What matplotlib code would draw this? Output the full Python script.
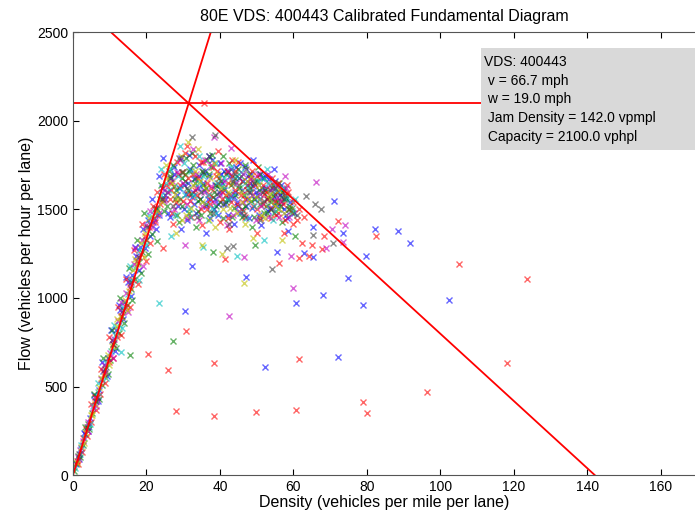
import matplotlib
matplotlib.use('Agg')
import matplotlib.pyplot as plt
from matplotlib.patches import Rectangle

plt.rcParams['font.family'] = ['Liberation Sans', 'DejaVu Sans']

# calibrated parameters
vds_id = '400443'
v_free = 66.7       # mph
w_cong = 19.0       # mph
jam_density = 142.0 # vpmpl
capacity = 2100.0   # vphpl

# observed (density, flow) points, grouped by the colour they were plotted in
blue_pts = [(0.8, 60), (2.1, 150), (3.3, 230), (4.6, 320), (5.9, 420), (7.0, 480), (8.2, 590), (9.5, 660),
            (10.6, 760), (11.7, 820), (12.8, 930), (13.9, 980), (15.1, 1090), (16.0, 1130), (17.2, 1240),
            (18.3, 1290), (19.1, 1390), (20.4, 1440), (21.5, 1560),
            (1.6, 90), (3.0, 240), (4.2, 250), (5.6, 450), (6.9, 420), (8.0, 640), (9.2, 560), (10.3, 820),
            (11.4, 700), (12.4, 960), (13.6, 880), (14.5, 1120), (15.8, 1010), (16.8, 1290), (17.9, 1160),
            (19.6, 1280), (20.9, 1350), (21.8, 1430), (22.6, 1390),
            (23.5, 1690), (25.1, 1580), (27.4, 1740), (28.9, 1620), (30.2, 1500), (31.6, 1810), (33.0, 1670),
            (34.7, 1560), (35.9, 1720), (37.3, 1450), (38.6, 1640), (40.1, 1760), (41.4, 1530), (42.8, 1690),
            (44.0, 1600), (45.5, 1480), (46.9, 1740), (48.2, 1650), (49.6, 1560), (50.8, 1700), (52.3, 1620),
            (53.7, 1510), (55.0, 1660), (56.4, 1580), (57.9, 1470), (29.5, 1390), (36.2, 1370), (43.7, 1420),
            (51.1, 1410), (58.5, 1380), (26.3, 1460), (32.4, 1570), (39.5, 1530), (47.3, 1560), (54.6, 1730),
            (24.4, 1790), (45.1, 1680), (49.0, 1780),
            (22.5, 1510), (24.2, 1620), (25.9, 1480), (27.6, 1700), (29.3, 1790), (31.0, 1440), (32.7, 1600),
            (34.4, 1690), (36.1, 1520), (37.8, 1780), (39.5, 1470), (41.2, 1610), (42.9, 1730), (44.6, 1540),
            (46.3, 1660), (48.0, 1450), (49.7, 1600), (51.4, 1680), (53.1, 1490), (54.8, 1570), (56.5, 1520),
            (58.2, 1450), (23.4, 1470), (25.0, 1560), (26.8, 1680), (28.5, 1520), (30.1, 1640), (31.8, 1730),
            (33.6, 1480), (35.3, 1650), (37.0, 1800), (38.7, 1560), (40.4, 1700), (42.1, 1470), (43.8, 1570),
            (45.5, 1760), (47.2, 1520), (48.9, 1630), (50.6, 1470), (52.3, 1690), (54.0, 1560), (55.7, 1600),
            (57.4, 1500), (59.1, 1540), (60.2, 1480),
            (28.2, 1580), (29.9, 1710), (31.3, 1650), (32.9, 1530), (34.2, 1750), (35.7, 1610), (37.1, 1690),
            (38.4, 1500), (39.8, 1600), (41.0, 1720), (42.4, 1560), (43.5, 1650), (44.9, 1520), (46.0, 1610),
            (47.6, 1690), (48.7, 1510), (50.1, 1580), (51.5, 1620), (52.8, 1560), (54.1, 1620), (55.4, 1520),
            (56.7, 1640), (30.7, 1590), (33.9, 1620), (36.8, 1560), (40.6, 1650), (44.3, 1740), (48.4, 1700),
            (53.3, 1670), (57.2, 1600),
            (32.5, 1180), (47.0, 1120), (55.5, 1260), (62.9, 1252), (65.4, 1231), (73.6, 1365), (65.4, 1401),
            (71.1, 1548), (82.2, 1390), (88.4, 1380), (91.6, 1310), (79.7, 1239), (74.9, 1113), (68.0, 1016),
            (60.8, 973), (79.0, 962), (102.4, 988), (30.6, 928), (52.3, 611), (72.2, 666)]

green_pts = [(0.3, 20), (1.5, 110), (2.8, 170), (4.0, 290), (5.2, 350), (6.6, 440), (7.8, 510), (8.9, 610),
             (10.1, 650), (11.3, 750), (12.4, 800), (13.4, 900), (14.6, 960), (15.7, 1050), (16.9, 1110),
             (17.8, 1200), (18.9, 1260), (19.8, 1330), (20.9, 1420), (22.3, 1500),
             (0.9, 70), (2.0, 100), (3.4, 270), (4.4, 260), (5.7, 460), (7.1, 430), (8.3, 660), (9.4, 570),
             (10.5, 820), (11.8, 720), (12.9, 1000), (14.0, 860), (15.2, 1170), (16.2, 990), (17.3, 1330),
             (18.5, 1140), (19.3, 1480), (20.3, 1250), (21.4, 1360),
             (24.0, 1640), (26.1, 1720), (27.9, 1560), (29.7, 1680), (31.2, 1610), (32.8, 1750), (34.1, 1490),
             (35.5, 1640), (37.0, 1700), (38.2, 1570), (39.8, 1680), (41.0, 1620), (42.5, 1760), (43.9, 1510),
             (45.2, 1640), (46.6, 1580), (47.9, 1700), (49.3, 1460), (50.5, 1610), (51.9, 1680), (53.2, 1570),
             (54.4, 1640), (55.9, 1540), (57.2, 1610), (58.8, 1520), (28.4, 1470), (33.6, 1400), (40.7, 1450),
             (48.6, 1400), (56.8, 1430), (30.8, 1790), (37.8, 1810), (44.8, 1730), (52.6, 1520), (25.6, 1520),
             (42.0, 1560), (36.1, 1530), (59.6, 1480),
             (23.0, 1500), (24.7, 1490), (26.4, 1690), (28.1, 1610), (29.8, 1520), (31.5, 1720), (33.2, 1650),
             (34.9, 1470), (36.6, 1780), (38.3, 1600), (40.0, 1540), (41.7, 1700), (43.4, 1460), (45.1, 1620),
             (46.8, 1750), (48.5, 1550), (50.2, 1660), (51.9, 1480), (53.6, 1610), (55.3, 1540), (57.0, 1600),
             (58.7, 1500), (22.1, 1450), (23.8, 1560), (25.5, 1600), (27.2, 1750), (28.9, 1430), (30.6, 1660),
             (32.3, 1820), (34.0, 1550), (35.7, 1700), (37.4, 1480), (39.1, 1630), (40.8, 1800), (42.5, 1590),
             (44.2, 1680), (45.9, 1500), (47.6, 1640), (49.3, 1560), (51.0, 1700), (52.7, 1480), (54.4, 1580),
             (56.1, 1650), (57.8, 1570), (59.5, 1510),
             (27.5, 1630), (29.1, 1560), (30.4, 1700), (32.0, 1590), (33.3, 1680), (34.6, 1560), (36.3, 1620),
             (37.6, 1740), (39.0, 1520), (40.3, 1660), (41.6, 1540), (42.9, 1640), (44.0, 1580), (45.6, 1690),
             (46.9, 1520), (48.2, 1620), (49.6, 1660), (50.9, 1530), (52.2, 1610), (53.9, 1540), (55.0, 1590),
             (56.3, 1520), (31.7, 1480), (35.0, 1720), (38.8, 1640), (42.2, 1710), (46.1, 1460), (50.3, 1740),
             (54.7, 1480), (58.1, 1560),
             (27.1, 756), (15.5, 677), (38.2, 1260), (49.5, 1300), (22.8, 1320), (60.4, 1350)]

red_pts = [(1.0, 80), (2.4, 130), (3.6, 260), (4.9, 300), (6.1, 440), (7.3, 460), (8.5, 570), (9.8, 640),
           (10.8, 740), (12.0, 780), (13.1, 900), (14.3, 950), (15.4, 1060), (16.4, 1100), (17.5, 1210),
           (18.6, 1250), (19.6, 1350), (20.7, 1400), (21.9, 1520),
           (1.3, 60), (2.6, 210), (3.8, 220), (5.0, 400), (6.2, 370), (7.6, 600), (8.6, 520), (9.9, 780),
           (11.0, 660), (12.2, 950), (13.2, 790), (14.4, 1110), (15.5, 950), (16.5, 1270), (17.6, 1080),
           (18.8, 1420), (19.9, 1210), (21.1, 1310), (22.2, 1430),
           (22.8, 1600), (24.7, 1700), (26.6, 1610), (28.3, 1770), (29.9, 1550), (31.4, 1680), (33.3, 1610),
           (34.9, 1770), (36.4, 1500), (37.7, 1620), (39.1, 1720), (40.6, 1560), (42.1, 1650), (43.4, 1780),
           (44.7, 1530), (46.1, 1660), (47.5, 1610), (48.8, 1720), (50.2, 1500), (51.6, 1640), (52.9, 1560),
           (54.3, 1680), (55.6, 1600), (57.1, 1530), (58.3, 1640), (59.8, 1420), (27.2, 1420), (35.2, 1410),
           (42.6, 1390), (50.0, 1370), (57.5, 1370), (31.0, 1860), (39.6, 1830), (46.4, 1490), (53.8, 1450),
           (61.5, 1500), (63.0, 1460),
           (22.9, 1470), (24.6, 1560), (26.3, 1650), (28.0, 1540), (29.7, 1710), (31.4, 1590), (33.1, 1800),
           (34.8, 1500), (36.5, 1650), (38.2, 1740), (39.9, 1430), (41.6, 1580), (43.3, 1690), (45.0, 1770),
           (46.7, 1460), (48.4, 1600), (50.1, 1690), (51.8, 1530), (53.5, 1640), (55.2, 1470), (56.9, 1550),
           (58.6, 1600), (23.6, 1530), (25.3, 1640), (27.0, 1480), (28.7, 1700), (30.4, 1820), (32.1, 1460),
           (33.8, 1580), (35.5, 1770), (37.2, 1530), (38.9, 1690), (40.6, 1600), (42.3, 1450), (44.0, 1720),
           (45.7, 1580), (47.4, 1640), (49.1, 1520), (50.8, 1450), (52.5, 1600), (54.2, 1510), (55.9, 1650),
           (57.6, 1440), (59.3, 1490), (61.0, 1440),
           (29.0, 1640), (31.9, 1550), (34.0, 1680), (36.9, 1590), (39.4, 1650), (41.9, 1720), (44.2, 1610),
           (46.8, 1560), (49.5, 1640), (52.0, 1590), (54.9, 1550), (57.8, 1580), (32.6, 1700), (37.4, 1560),
           (43.0, 1540), (48.1, 1670), (51.0, 1560), (55.9, 1480), (26.4, 1560), (60.0, 1540),
           (35.7, 2102), (62.3, 1311), (65.1, 1301), (67.7, 1276), (64.3, 1235), (61.5, 1224), (68.4, 1352),
           (72.2, 1435), (82.6, 1348), (105.1, 1190), (123.5, 1109), (118.2, 635), (96.4, 468), (79.0, 415),
           (79.9, 349), (61.5, 656), (60.8, 369), (49.9, 355), (38.4, 334), (28.1, 364), (25.9, 596),
           (38.4, 632), (20.3, 683), (30.8, 813), (41.5, 1220), (56.0, 1200), (24.5, 1280)]

cyan_pts = [(0.6, 40), (1.8, 120), (3.0, 210), (4.3, 270), (5.5, 390), (6.8, 470), (8.0, 540), (9.1, 630),
            (10.4, 700), (11.5, 790), (12.6, 850), (13.7, 950), (14.9, 1020), (15.9, 1100), (17.0, 1170),
            (18.1, 1270), (19.4, 1320), (20.6, 1470),
            (2.2, 170), (4.5, 290), (6.7, 520), (9.0, 550), (11.1, 850), (13.4, 830), (15.6, 1180),
            (17.9, 1100), (20.0, 1300),
            (23.9, 1730), (26.0, 1610), (28.6, 1690), (30.5, 1580), (32.1, 1720), (34.3, 1650), (36.7, 1580),
            (38.9, 1760), (41.2, 1680), (43.1, 1570), (45.8, 1710), (47.7, 1620), (50.4, 1660), (52.8, 1730),
            (55.3, 1610), (57.6, 1560), (31.9, 1460), (39.0, 1480), (47.0, 1450), (54.9, 1490), (60.3, 1560),
            (29.0, 1860),
            (22.7, 1480), (25.2, 1650), (27.8, 1470), (30.3, 1760), (32.9, 1580), (35.4, 1690), (37.9, 1510),
            (40.5, 1630), (43.0, 1740), (45.6, 1480), (48.1, 1600), (50.7, 1560), (53.2, 1650), (55.8, 1500),
            (58.3, 1570), (24.0, 1580), (26.5, 1730), (29.1, 1620), (31.6, 1500), (34.2, 1800), (36.7, 1440),
            (39.3, 1650), (41.8, 1560), (44.3, 1690), (46.9, 1650), (49.4, 1520), (52.0, 1680), (54.5, 1440),
            (57.1, 1620), (59.6, 1490),
            (23.5, 971), (13.1, 694), (35.3, 1290), (26.7, 1350), (52.0, 1330), (44.6, 1240)]

magenta_pts = [(1.4, 100), (2.7, 190), (4.1, 250), (5.4, 380), (6.5, 430), (7.7, 540), (8.8, 580), (10.2, 690),
               (11.2, 770), (12.3, 870), (13.3, 920), (14.5, 1030), (15.6, 1080), (16.6, 1190), (17.7, 1230),
               (18.8, 1330), (19.9, 1410), (21.0, 1490),
               (1.9, 140), (4.0, 300), (6.3, 390), (8.4, 620), (10.9, 660), (13.0, 980), (15.0, 920),
               (17.0, 1280), (19.0, 1180), (21.6, 1400),
               (24.8, 1550), (27.0, 1660), (29.2, 1780), (31.0, 1530), (33.5, 1700), (35.6, 1600), (37.5, 1750),
               (39.9, 1580), (42.3, 1720), (44.4, 1650), (46.3, 1540), (48.5, 1680), (50.9, 1590), (53.1, 1700),
               (55.4, 1630), (57.7, 1690), (34.4, 1440), (41.8, 1410), (49.8, 1440), (56.2, 1460), (38.4, 1910),
               (43.0, 1850),
               (23.3, 1480), (25.8, 1600), (28.4, 1710), (30.9, 1450), (33.4, 1620), (36.0, 1780), (38.5, 1540),
               (41.1, 1660), (43.6, 1470), (46.2, 1700), (48.7, 1580), (51.3, 1520), (53.8, 1610), (56.4, 1550),
               (58.9, 1460), (22.4, 1440), (24.9, 1610), (27.5, 1500), (30.0, 1650), (32.6, 1840), (35.1, 1520),
               (37.7, 1630), (40.2, 1760), (42.8, 1580), (45.3, 1490), (47.9, 1650), (50.4, 1700), (53.0, 1460),
               (55.5, 1570), (58.0, 1620),
               (42.4, 899), (60.0, 1054), (66.1, 1653), (74.1, 1412), (69.0, 1280), (59.3, 1235), (73.6, 1318),
               (70.4, 1390), (30.5, 1300), (46.6, 1230)]

yellow_pts = [(1.1, 70), (2.3, 160), (3.5, 240), (4.8, 340), (6.0, 400), (7.2, 500), (8.4, 560), (9.6, 680),
              (10.7, 730), (11.9, 840), (13.0, 890), (14.1, 990), (15.3, 1040), (16.3, 1160), (17.4, 1190),
              (18.4, 1310), (19.5, 1370), (20.8, 1450),
              (2.9, 180), (5.3, 340), (7.5, 550), (9.9, 620), (12.1, 880), (14.6, 930), (16.9, 1220), (19.2, 1230),
              (25.3, 1750), (27.7, 1590), (30.0, 1710), (32.6, 1640), (35.0, 1540), (37.4, 1680), (40.3, 1620),
              (42.7, 1510), (45.6, 1600), (48.0, 1560), (50.7, 1640), (53.5, 1590), (56.0, 1500), (33.9, 1840),
              (44.2, 1780), (29.8, 1440), (38.7, 1400), (46.8, 1420),
              (22.8, 1490), (25.6, 1680), (28.2, 1560), (30.7, 1470), (33.2, 1720), (35.8, 1620), (38.3, 1760),
              (40.9, 1500), (43.4, 1650), (46.0, 1540), (48.5, 1690), (51.1, 1470), (53.6, 1560), (56.2, 1610),
              (58.7, 1500), (24.3, 1540), (26.9, 1650), (29.4, 1800), (32.0, 1510), (34.5, 1660), (37.1, 1440),
              (39.6, 1700), (42.2, 1600), (44.7, 1480), (47.3, 1660), (49.8, 1570), (52.4, 1450), (54.9, 1520),
              (57.5, 1480), (31.3, 1880),
              (46.5, 1084), (40.6, 1248), (28.0, 1367), (49.1, 1339), (35.0, 1300), (57.0, 1330)]

black_pts = [(1.7, 120), (3.9, 270), (6.4, 420), (8.7, 600), (11.0, 740), (13.5, 930), (15.8, 1090),
             (18.0, 1230), (20.1, 1400),
             (26.5, 1680), (30.9, 1620), (35.4, 1710), (39.3, 1590), (43.6, 1660), (47.8, 1600), (52.0, 1550),
             (56.6, 1570), (32.3, 1910), (38.6, 1923), (61.0, 1470),
             (24.1, 1560), (27.3, 1520), (29.6, 1710), (33.8, 1460), (36.9, 1800), (40.7, 1530), (44.1, 1700),
             (46.5, 1470), (49.4, 1650), (51.7, 1600), (53.9, 1500), (57.3, 1560), (28.8, 1790), (34.9, 1600),
             (38.1, 1480), (42.5, 1420), (47.0, 1730), (50.9, 1440), (55.1, 1620), (58.9, 1500),
             (63.3, 1578), (65.8, 1531), (67.6, 1503), (70.7, 1312), (65.4, 1357), (43.6, 1295), (41.8, 1282),
             (54.2, 1163)]

series = [(blue_pts, (0, 0, 1)), (green_pts, (0, 0.5, 0)), (red_pts, (1, 0, 0)),
          (cyan_pts, (0, 0.75, 0.75)), (magenta_pts, (0.75, 0, 0.75)),
          (yellow_pts, (0.75, 0.75, 0)), (black_pts, (0.25, 0.25, 0.25))]

fig = plt.figure(figsize=(6.95, 5.17), dpi=100)
ax = fig.add_axes([0.105, 0.0812, 0.895, 0.856])

for pts, col in series:
    dens = [p[0] for p in pts]
    flow = [p[1] for p in pts]
    ax.plot(dens, flow, 'x', color=col, alpha=0.6, markersize=5, markeredgewidth=1.0)

# fundamental diagram lines
k_top = 2500 / v_free + 5
ax.plot([0, k_top], [0, v_free * k_top], color='red', lw=1.3)
ax.plot([0, jam_density], [w_cong * jam_density, 0], color='red', lw=1.3)
ax.axhline(capacity, color='red', lw=1.3)

ax.set_xlim(0, 169.3)
ax.set_ylim(0, 2500)
ax.set_xticks(range(0, 161, 20))
ax.set_yticks(range(0, 2501, 500))
ax.tick_params(direction='in', top=True, right=False, length=4, width=0.8, labelsize=10, colors='black')
for s in ['left', 'bottom', 'top']:
    ax.spines[s].set_color('#555555')
ax.spines['right'].set_visible(False)

ax.set_xlabel('Density (vehicles per mile per lane)', fontsize=11.5, labelpad=1)
ax.set_ylabel('Flow (vehicles per hour per lane)', fontsize=11.5, labelpad=2)
ax.set_title('80E VDS: ' + vds_id + ' Calibrated Fundamental Diagram', fontsize=11.5, pad=8)

# info box
ax.add_patch(Rectangle((111.0, 1836), 62, 576, facecolor='#d9d9d9', edgecolor='none',
                       zorder=5, clip_on=False))
info = ('VDS: %s\n v = %.1f mph\n w = %.1f mph\n Jam Density = %.1f vpmpl\n Capacity = %.1f vphpl'
        % (vds_id, v_free, w_cong, jam_density, capacity))
ax.text(111.8, 2372, info, fontsize=10, va='top', ha='left', zorder=6, linespacing=1.42)

fig.savefig('out.png', dpi=100)
